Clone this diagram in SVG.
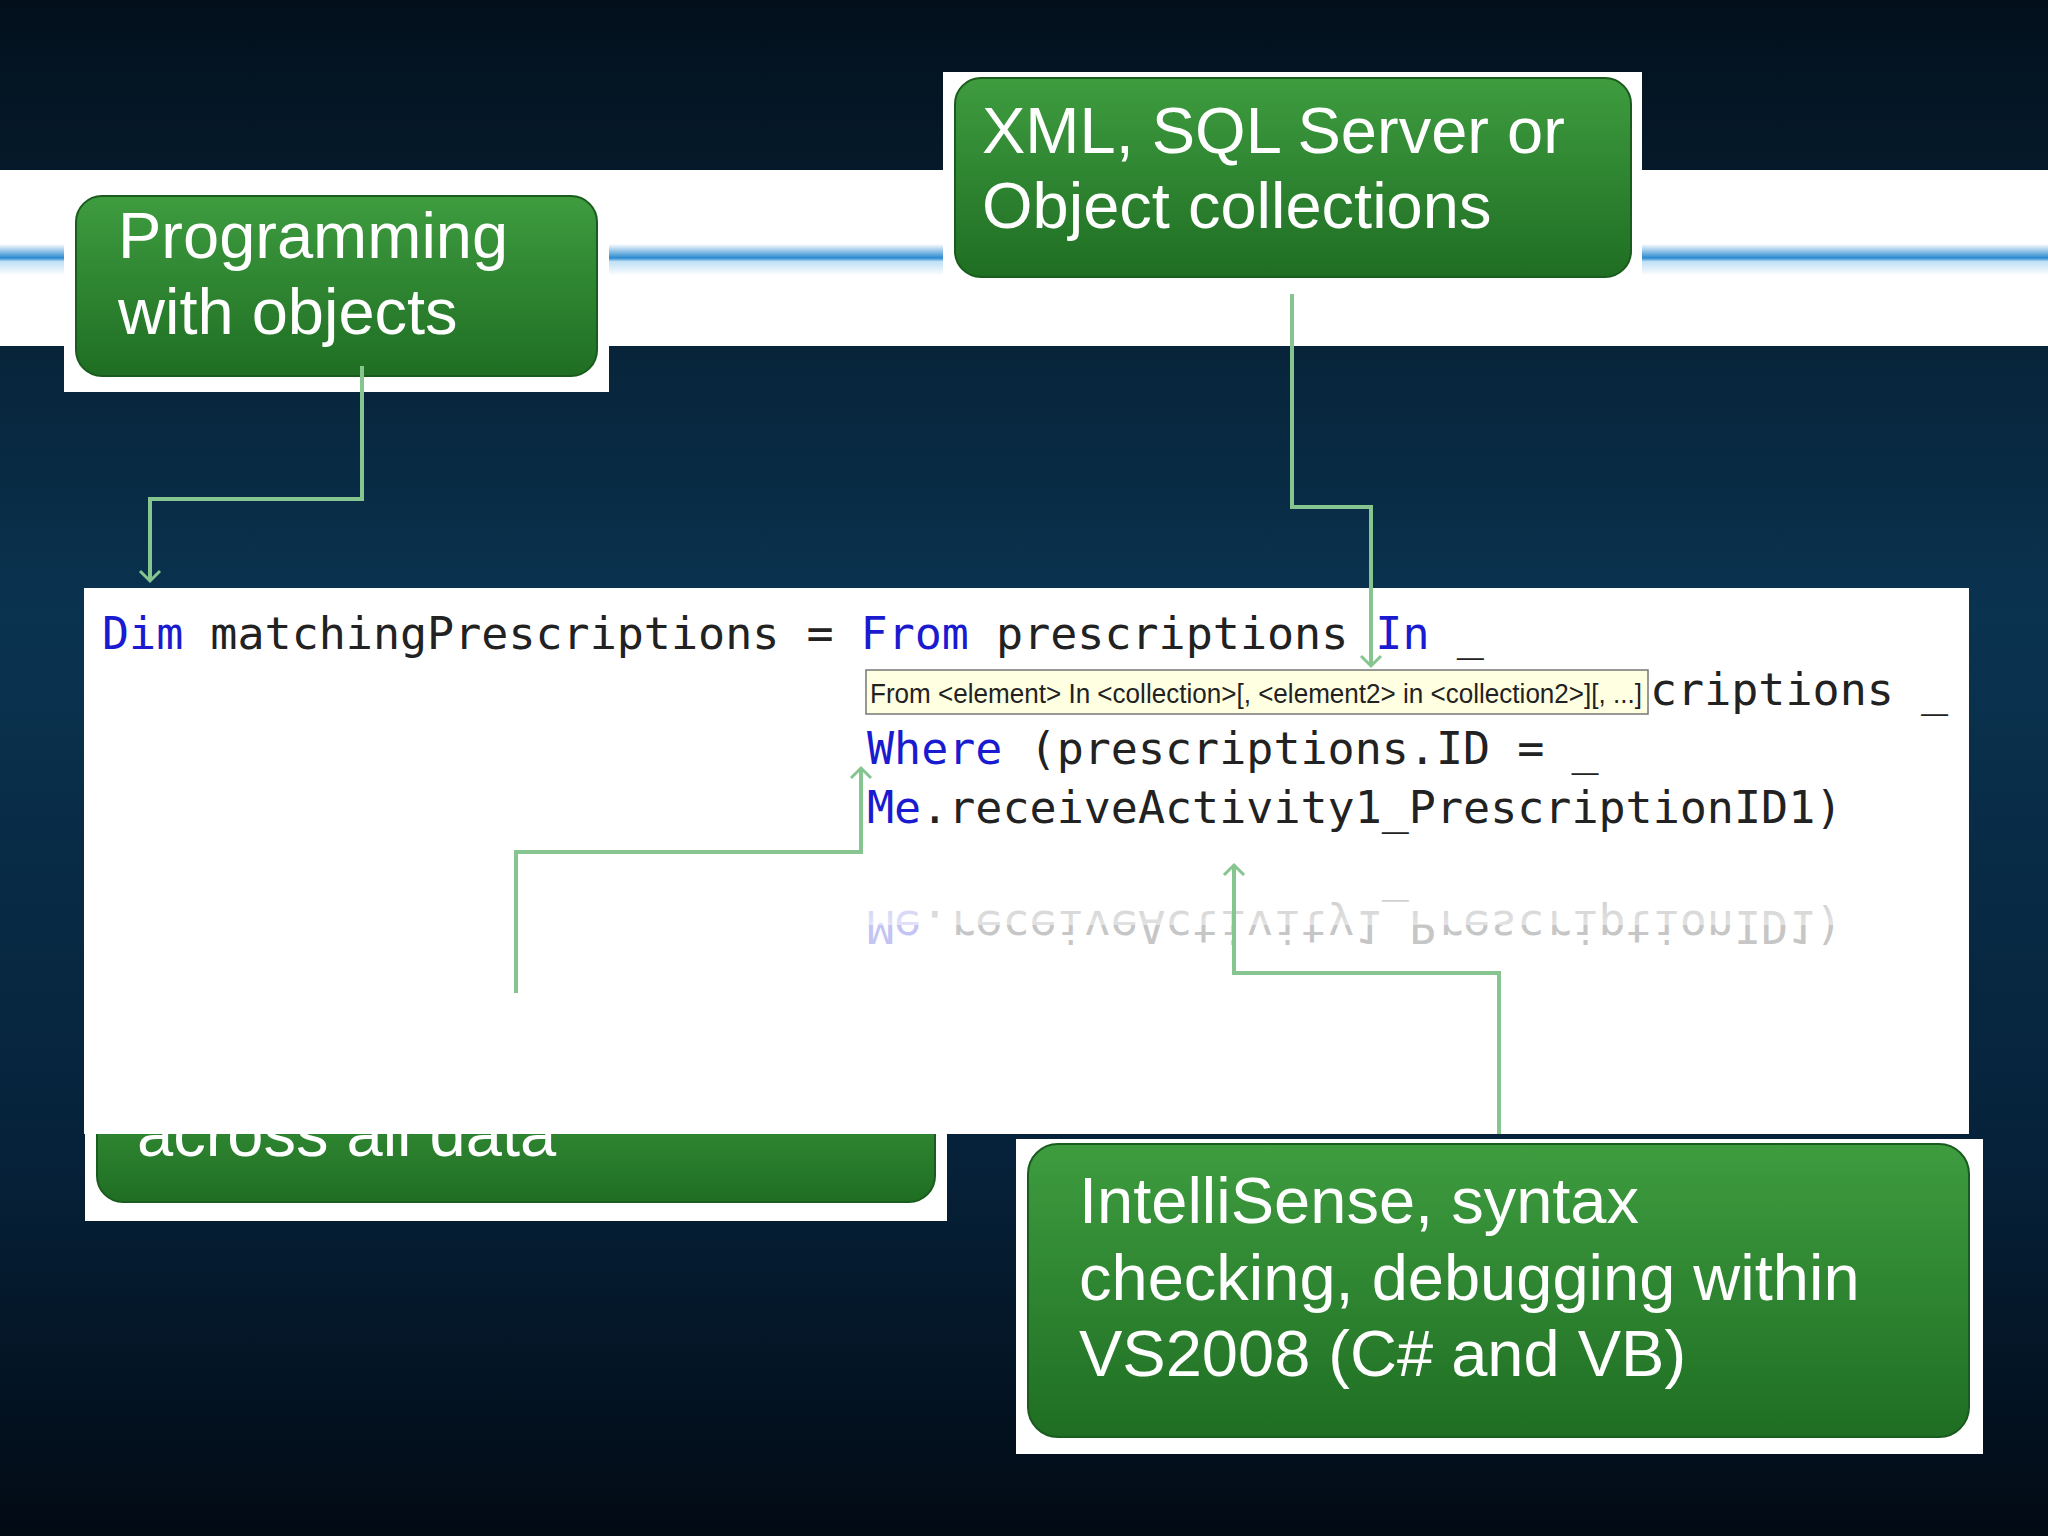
<svg xmlns="http://www.w3.org/2000/svg" width="2048" height="1536" viewBox="0 0 2048 1536">
<defs>
<linearGradient id="bg" x1="0" y1="0" x2="0" y2="1"><stop offset="0" stop-color="#03101c"/><stop offset="0.4" stop-color="#0a3350"/><stop offset="0.75" stop-color="#06223a"/><stop offset="1" stop-color="#020a14"/></linearGradient>
<linearGradient id="band" x1="0" y1="0" x2="0" y2="1"><stop offset="0" stop-color="#fff"/><stop offset="0.42" stop-color="#fff"/><stop offset="0.5" stop-color="#2a8ad0"/><stop offset="0.52" stop-color="#bfe0f5"/><stop offset="0.6" stop-color="#fff"/><stop offset="1" stop-color="#fff"/></linearGradient>
<linearGradient id="green" x1="0" y1="0" x2="0" y2="1"><stop offset="0" stop-color="#3e9c3f"/><stop offset="1" stop-color="#1f6e23"/></linearGradient>
<linearGradient id="fade" x1="0" y1="0" x2="0" y2="1"><stop offset="0" stop-color="#fff" stop-opacity="0"/><stop offset="1" stop-color="#fff" stop-opacity="1"/></linearGradient>
<marker id="arr" markerWidth="24" markerHeight="24" refX="12" refY="12" orient="auto" markerUnits="userSpaceOnUse"><path d="M2,2 L12,12 L2,22" fill="none" stroke="#86c58f" stroke-width="3"/></marker>
<style>
.box{fill:url(#green);stroke:#1a5c1e;stroke-width:2}
.back{fill:#fff}
.bt{font-family:"Liberation Sans",Arial,sans-serif;font-size:65px;fill:#fff}
.code{font-family:"DejaVu Sans Mono","Liberation Mono",monospace;font-size:45px;fill:#222}
.kw{fill:#1a1ad0}
.conn{fill:none;stroke:#86c58f;stroke-width:4;marker-end:url(#arr)}
</style>
</defs>
<rect width="2048" height="1536" fill="url(#bg)"/>
<rect x="0" y="170" width="2048" height="176" fill="url(#band)"/>

<g id="node-objects">
<rect class="back" x="64" y="193" width="545" height="199"/>
<rect class="box" x="76" y="196" width="521" height="180" rx="26"/>
<text class="bt" x="118" y="258">Programming</text>
<text class="bt" x="118" y="334">with objects</text>
</g>

<g id="node-sources">
<rect class="back" x="943" y="72" width="699" height="222"/>
<rect class="box" x="955" y="78" width="676" height="199" rx="26"/>
<text class="bt" x="982" y="153">XML, SQL Server or</text>
<text class="bt" x="982" y="228">Object collections</text>
</g>

<g id="node-across">
<rect class="back" x="85" y="1120" width="862" height="101"/>
<rect class="box" x="97" y="1060" width="838" height="142" rx="26"/>
<text class="bt" x="137" y="1156">across all data</text>
</g>

<g id="code-panel">
<rect x="84" y="588" width="1885" height="546" fill="#fff"/>
<text class="code" x="102" y="649"><tspan class="kw">Dim</tspan> matchingPrescriptions = <tspan class="kw">From</tspan> prescriptions <tspan class="kw">In</tspan> _</text>
<text class="code" x="1650" y="705">criptions _</text>
<text class="code" x="867" y="764"><tspan class="kw">Where</tspan> (prescriptions.ID = _</text>
<text class="code" x="867" y="823"><tspan class="kw">Me</tspan>.receiveActivity1_PrescriptionID1)</text>
<text class="code" transform="translate(0,1734) scale(1,-1)" x="867" y="823" opacity="0.25"><tspan class="kw">Me</tspan>.receiveActivity1_PrescriptionID1)</text>
<rect x="84" y="885" width="1885" height="40" fill="url(#fade)" opacity="0.5"/>
<rect x="866" y="670" width="782" height="44" fill="#ffffe1" stroke="#777" stroke-width="1.5"/>
<text x="870" y="703" font-family="Liberation Sans Narrow,Liberation Sans,Arial,sans-serif" font-size="27" fill="#222" textLength="772" lengthAdjust="spacingAndGlyphs">From &lt;element&gt; In &lt;collection&gt;[, &lt;element2&gt; in &lt;collection2&gt;][, ...]</text>
</g>

<g id="node-intellisense">
<rect class="back" x="1016" y="1139" width="967" height="315"/>
<rect class="box" x="1028" y="1144" width="941" height="293" rx="30"/>
<text class="bt" x="1079" y="1223">IntelliSense, syntax</text>
<text class="bt" x="1079" y="1300">checking, debugging within</text>
<text class="bt" x="1079" y="1376">VS2008 (C# and VB)</text>
</g>

<g id="connectors">
<path class="conn" d="M362,366 V499 H150 V581"/>
<path class="conn" d="M1292,294 V507 H1371 V666"/>
<path class="conn" d="M516,993 V852 H861 V768"/>
<path class="conn" d="M1499,1134 V973 H1234 V865"/>
</g>
</svg>
